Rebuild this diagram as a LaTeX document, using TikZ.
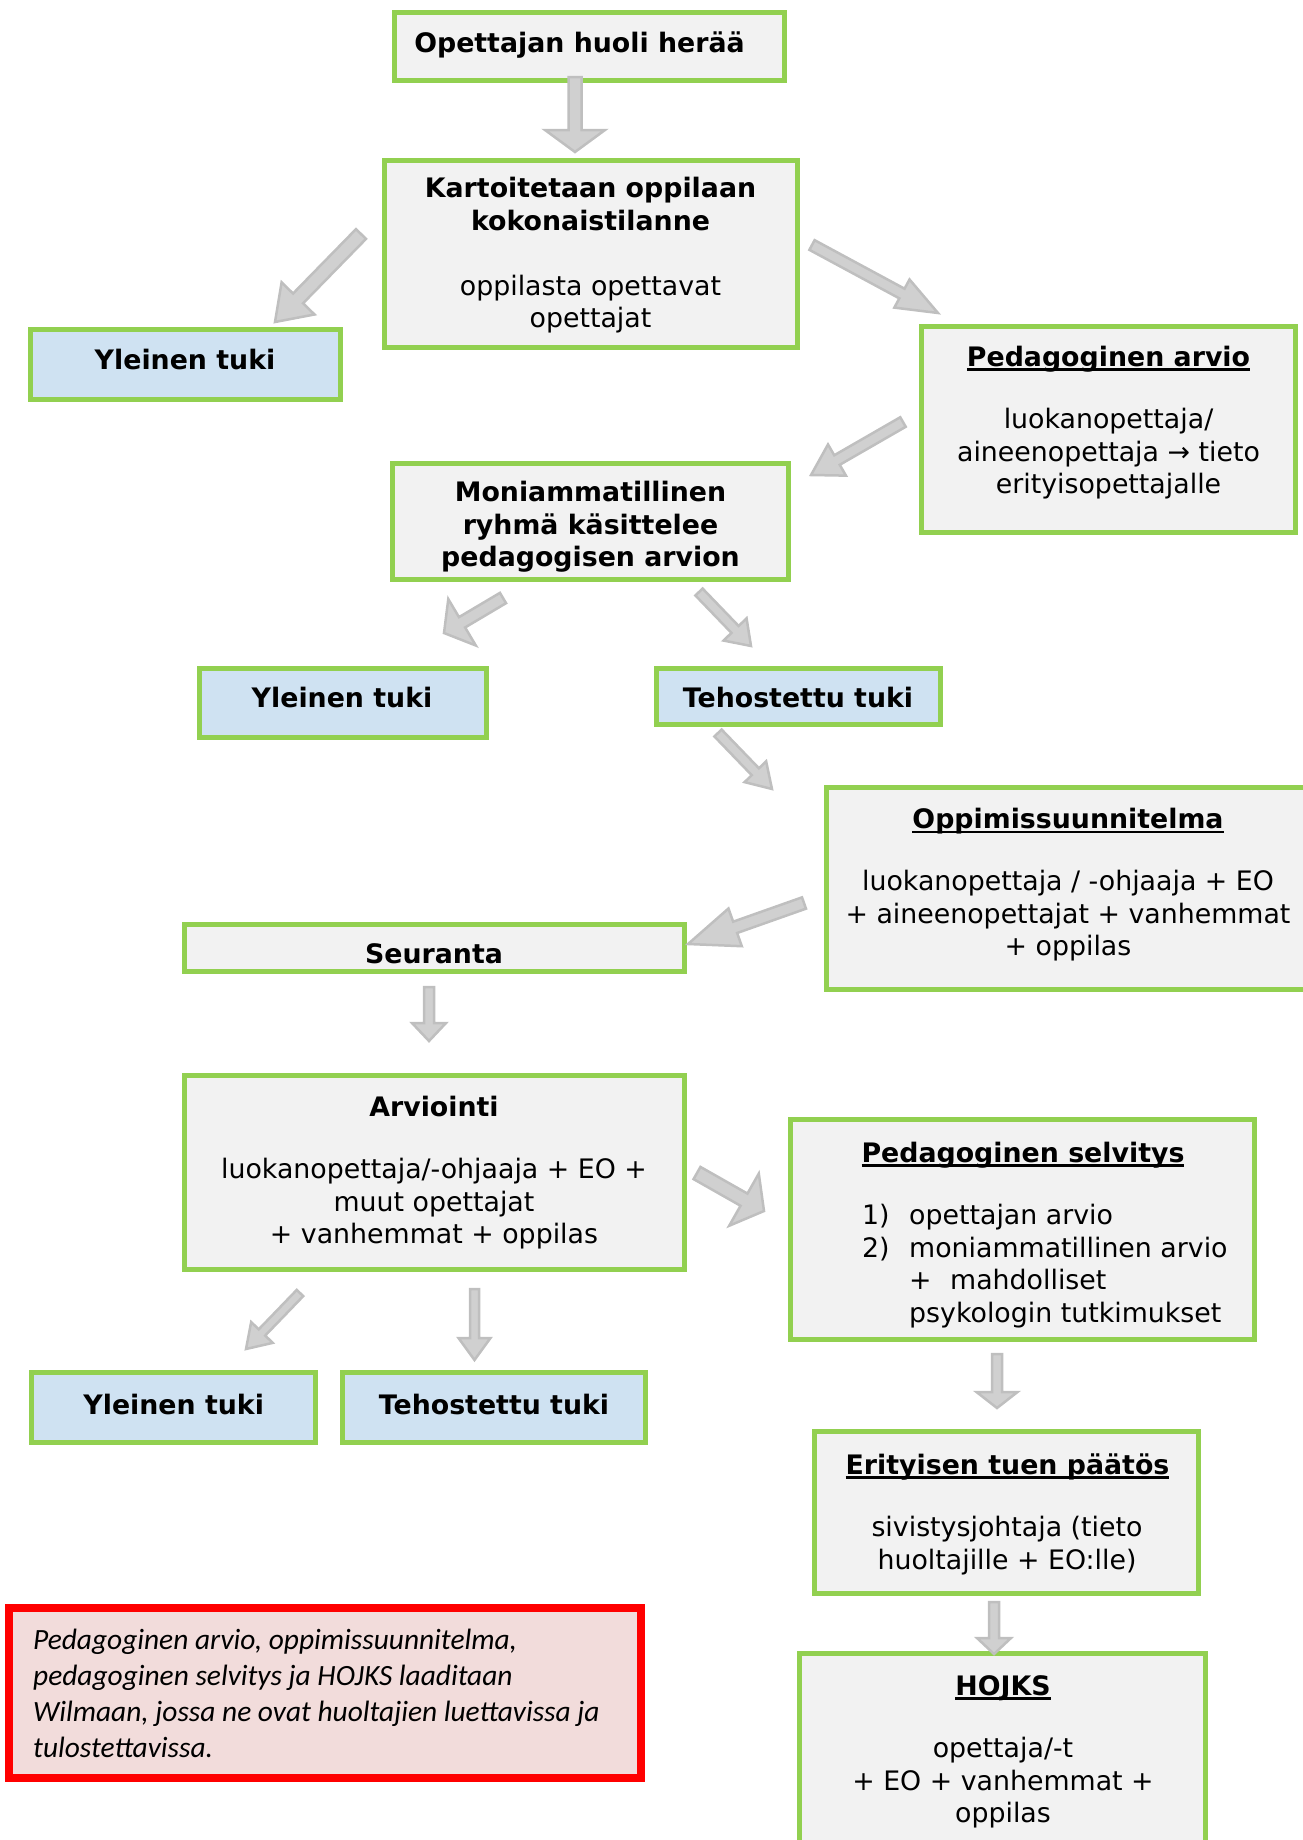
\documentclass[tikz,border=0pt]{standalone}
\usepackage{fontspec}
\setmainfont{DejaVu Sans}
\newfontfamily\notefont{Carlito}
\usetikzlibrary{calc}
\definecolor{boxgreen}{RGB}{146,208,80}
\definecolor{boxgray}{RGB}{242,242,242}
\definecolor{boxblue}{RGB}{207,226,242}
\definecolor{notepink}{RGB}{242,220,219}
\definecolor{notered}{RGB}{255,0,0}
\definecolor{arrfill}{RGB}{208,208,208}
\definecolor{arrdraw}{RGB}{191,191,191}
\newcommand\mainsize{\fontsize{26.8pt}{32.6pt}\selectfont}
\newcommand\notesize{\fontsize{29.4pt}{36.2pt}\selectfont}
\newcommand\ulin[1]{\setbox0\hbox{#1}\rlap{\rule[-4.5pt]{\wd0}{2.3pt}}\box0}
% #1 tail, #2 tip, #3 shaft half width, #4 head half width, #5 head length
\newcommand\blockarrow[5]{%
  \coordinate (bahead) at ($(#2)!#5!(#1)$);
  \draw[blockarr] ($(#1)!#3!90:(#2)$) -- ($(bahead)!#3!90:(#2)$) -- ($(bahead)!#4!90:(#2)$) -- (#2)
    -- ($(bahead)!#4!-90:(#2)$) -- ($(bahead)!#3!-90:(#2)$) -- ($(#1)!#3!-90:(#2)$) -- cycle;
}
\tikzset{
  box/.style={draw=boxgreen, line width=5pt, fill=boxgray, inner sep=0pt, outer sep=0pt},
  bluebox/.style={box, fill=boxblue},
  notebox/.style={draw=notered, line width=8pt, fill=notepink, inner sep=0pt},
  txt/.style={font=\mainsize, align=center, inner sep=0pt, anchor=north, yshift=-2.5pt,
    execute at begin node=\strut, execute at end node=\strut},
  ttl/.style={txt, font=\mainsize\bfseries},
  listtxt/.style={txt, align=left, anchor=north west},
  notetxt/.style={font=\notesize\notefont\itshape, align=left, anchor=north west, inner sep=0pt,
    yshift=-5pt, execute at begin node=\strut, execute at end node=\strut},
  blockarr/.style={draw=arrdraw, fill=arrfill, line width=2.5pt, line join=miter},
}
\begin{document}
\begin{tikzpicture}[x=1pt, y=-1pt]
\useasboundingbox (0,0) rectangle (1303,1840);
\clip (0,0) rectangle (1303,1840);

% boxes
\node[box, minimum width=390pt, minimum height=68pt] (b1) at (589.5,46.5) {};
\node[box, minimum width=413pt, minimum height=187pt] (b2) at (590.5,253.5) {};
\node[bluebox, minimum width=310pt, minimum height=70pt] (b3) at (185.5,364.5) {};
\node[box, minimum width=374pt, minimum height=206pt] (b4) at (1108.5,429.5) {};
\node[box, minimum width=396pt, minimum height=116pt] (b5) at (590.5,521.5) {};
\node[bluebox, minimum width=287pt, minimum height=69pt] (b6) at (343,703) {};
\node[bluebox, minimum width=284pt, minimum height=56pt] (b7) at (798.5,696.5) {};
\node[box, minimum width=483pt, minimum height=202pt] (b8) at (1068,888.5) {};
\node[box, minimum width=500pt, minimum height=47.5pt] (b9) at (434.5,947.75) {};
\node[box, minimum width=500pt, minimum height=194pt] (b10) at (434.5,1172.5) {};
\node[box, minimum width=464pt, minimum height=220pt] (b11) at (1022.5,1229.5) {};
\node[bluebox, minimum width=284pt, minimum height=70pt] (b12) at (173.5,1407.5) {};
\node[bluebox, minimum width=303pt, minimum height=70pt] (b13) at (494,1407.5) {};
\node[box, minimum width=384pt, minimum height=162pt] (b14) at (1006.5,1512.5) {};
\node[box, minimum width=406pt, minimum height=246.5pt] (b15) at (1002.5,1776.75) {};
\node[notebox, minimum width=632pt, minimum height=170pt] (note) at (325,1693) {};

% texts
\node[ttl] (t1) at (579.5,26.7) {Opettajan huoli herää};
\node[ttl] (t2a) at (590.5,174.7) {Kartoitetaan oppilaan\\kokonaistilanne};
\node[txt] (t2b) at (590.5,272.2) {oppilasta opettavat\\opettajat};
\node[ttl] (t3) at (185,343.7) {Yleinen tuki};
\node[ttl] (t4a) at (1108.5,340.7) {\ulin{Pedagoginen arvio}};
\node[txt] (t4b) at (1108.5,405.7) {luokanopettaja/\\aineenopettaja → tieto\\erityisopettajalle};
\node[ttl] (t5) at (590.5,478.7) {Moniammatillinen\\ryhmä käsittelee\\pedagogisen arvion};
\node[ttl] (t6) at (342,681.7) {Yleinen tuki};
\node[ttl] (t7) at (798,681.7) {Tehostettu tuki};
\node[ttl] (t8a) at (1068,803.2) {\ulin{Oppimissuunnitelma}};
\node[txt] (t8b) at (1068,867.7) {luokanopettaja / -ohjaaja + EO\\+ aineenopettajat + vanhemmat\\+ oppilas};
\node[ttl] (t9) at (434,937.7) {Seuranta};
\node[ttl] (t10a) at (434,1090.7) {Arviointi};
\node[txt] (t10b) at (434,1155.7) {luokanopettaja/-ohjaaja + EO +\\muut opettajat\\+ vanhemmat + oppilas};
\node[ttl] (t11a) at (1023,1136.7) {\ulin{Pedagoginen selvitys}};
\node[listtxt] (t11b) at (909,1201.7) {\llap{1)\hspace{19.5pt}}opettajan arvio\\\llap{2)\hspace{19.5pt}}moniammatillinen arvio\\\makebox[41pt][l]{+}mahdolliset\\psykologin tutkimukset};
\node[ttl] (t12) at (173.7,1388.7) {Yleinen tuki};
\node[ttl] (t13) at (494,1388.7) {Tehostettu tuki};
\node[ttl] (t14a) at (1007.5,1448.7) {\ulin{Erityisen tuen päätös}};
\node[txt] (t14b) at (1007,1513.7) {sivistysjohtaja (tieto\\huoltajille + EO:lle)};
\node[ttl] (t15a) at (1003,1669.7) {\ulin{HOJKS}};
\node[txt] (t15b) at (1003,1734.7) {opettaja/-t\\+ EO + vanhemmat +\\oppilas};
\node[notetxt] (notet) at (33,1623.5) {Pedagoginen arvio, oppimissuunnitelma,\\pedagoginen selvitys ja HOJKS laaditaan\\Wilmaan, jossa ne ovat huoltajien luettavissa ja\\tulostettavissa.};

% arrow end points
\coordinate (a1s) at (575,77);    \coordinate (a1e) at (575,152);
\coordinate (a2s) at (361,234);   \coordinate (a2e) at (275,322);
\coordinate (a3s) at (812,245);   \coordinate (a3e) at (938,313);
\coordinate (a4s) at (903,422);   \coordinate (a4e) at (811,475);
\coordinate (a5s) at (503,598);   \coordinate (a5e) at (444,633);
\coordinate (a6s) at (699,592);   \coordinate (a6e) at (751,646);
\coordinate (a7s) at (718,733);   \coordinate (a7e) at (772,789);
\coordinate (a8s) at (804,903);   \coordinate (a8e) at (688,944);
\coordinate (a9s) at (429,987);   \coordinate (a9e) at (429,1041);
\coordinate (a10s) at (697,1173); \coordinate (a10e) at (764,1211);
\coordinate (a11s) at (300,1293); \coordinate (a11e) at (246,1349);
\coordinate (a12s) at (474.5,1289); \coordinate (a12e) at (474.5,1360);
\coordinate (a13s) at (997,1354); \coordinate (a13e) at (997,1408);
\coordinate (a14s) at (994,1602); \coordinate (a14e) at (994,1654);

% arrows
\blockarrow{a1s}{a1e}{6.5pt}{30pt}{22pt}
\blockarrow{a2s}{a2e}{7pt}{23pt}{33pt}
\blockarrow{a3s}{a3e}{5.5pt}{16pt}{41pt}
\blockarrow{a4s}{a4e}{5.5pt}{18pt}{30pt}
\blockarrow{a5s}{a5e}{6pt}{27pt}{21pt}
\blockarrow{a6s}{a6e}{5pt}{16pt}{23pt}
\blockarrow{a7s}{a7e}{5pt}{15pt}{24pt}
\blockarrow{a8s}{a8e}{6pt}{20pt}{50pt}
\blockarrow{a9s}{a9e}{5pt}{17pt}{18pt}
\blockarrow{a10s}{a10e}{7pt}{30pt}{23pt}
\blockarrow{a11s}{a11e}{4.5pt}{15pt}{23pt}
\blockarrow{a12s}{a12e}{4.5pt}{16pt}{22pt}
\blockarrow{a13s}{a13e}{5pt}{20.5pt}{16pt}
\blockarrow{a14s}{a14e}{5pt}{17pt}{16pt}
\end{tikzpicture}
\end{document}
